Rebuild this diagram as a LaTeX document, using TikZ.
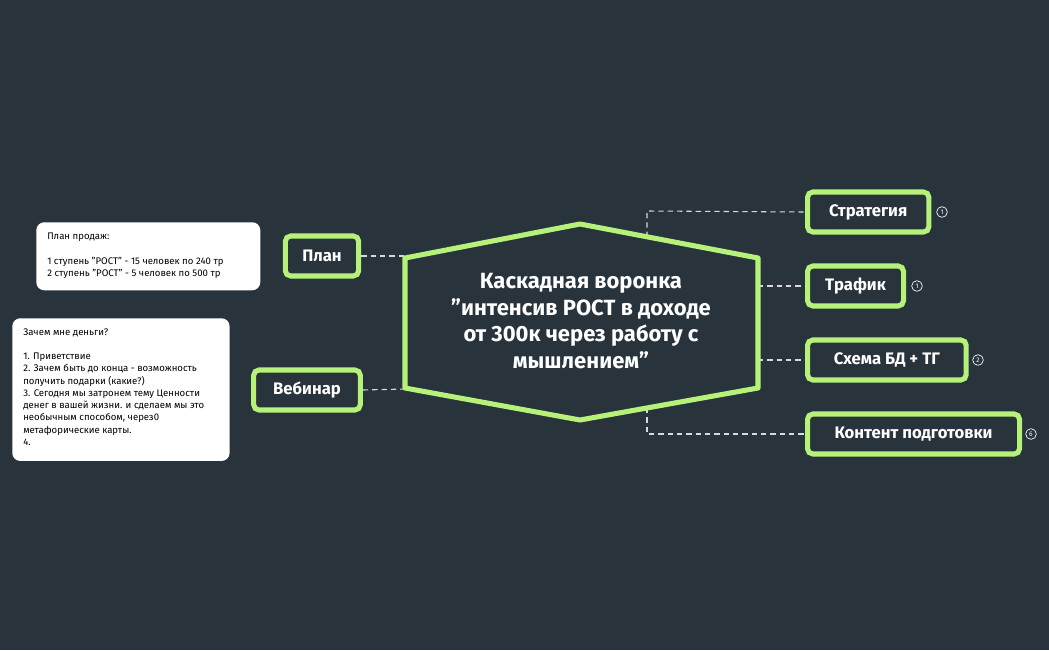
\documentclass[tikz,border=0pt]{standalone}
\usepackage{fontspec}
\setmainfont{Fira Sans}
\begin{document}
\begin{tikzpicture}[x=0.75pt,y=-0.75pt,
  topic/.style={draw=lime, line width=3.8pt, rounded corners=4pt, fill=bgc, text=white, font=\bfseries\fontsize{12.5}{15}\selectfont, inner sep=0pt, anchor=west, minimum height=30pt},
  notebox/.style={fill=white, rounded corners=6pt, anchor=north west, inner sep=0pt},
  notetext/.style={text=black, font=\fontsize{7.2}{9.2}\selectfont, align=left, anchor=north west, inner sep=0pt},
  conn/.style={draw=white!85!black, line width=0.8pt, dash pattern=on 4pt off 3pt},
  numbadge/.style={circle, draw=white, line width=0.5pt, text=white, font=\fontsize{5}{5}\selectfont, inner sep=0.6pt, minimum size=8pt}]
\definecolor{bgc}{HTML}{28333C}
\definecolor{lime}{HTML}{B6F27A}
\fill[bgc] (0,0) rectangle (1049,650);
\useasboundingbox (0,0) rectangle (1049,650);
% connectors
\coordinate (jt) at (647,211); \coordinate (jb) at (647,434);
\coordinate (ht) at (647,237); \coordinate (hb) at (647,408);
\coordinate (hr1) at (758,286); \coordinate (hr2) at (758,360);
\coordinate (hl1) at (405,256); \coordinate (hl2) at (405,389);
% hexagon
\coordinate (h1) at (405,258); \coordinate (h2) at (580,224); \coordinate (h3) at (758,258);
\coordinate (h4) at (758,388); \coordinate (h5) at (580,420); \coordinate (h6) at (405,388);
% topics
\node[topic, minimum width=91pt] (s) at (805,212) {Стратегия};
\node[topic, minimum width=72pt] (t) at (805,286) {Трафик};
\node[topic, minimum width=119pt] (sh) at (805,360) {Схема БД + ТГ};
\node[topic, minimum width=159pt] (k) at (805,434) {Контент подготовки};
\node[topic, minimum width=55pt, anchor=center] (p) at (322,256) {План};
\node[topic, minimum width=80pt, anchor=center] (v) at (307,390) {Вебинар};
\draw[conn] (ht) -- (jt) -- (s.west);
\draw[conn] (hr1) -- (t.west);
\draw[conn] (hr2) -- (sh.west);
\draw[conn] (hb) -- (jb) -- (k.west);
\draw[conn] (p.east) -- (hl1);
\draw[conn] (v.east) -- (hl2);
\draw[draw=lime, line width=3.8pt, line join=round, fill=bgc] (h1)--(h2)--(h3)--(h4)--(h5)--(h6)--cycle;
\node[text=white, font=\bfseries\fontsize{16.5}{20}\selectfont, align=center] (c) at (581,321)
 {Каскадная воронка\\"интенсив РОСТ в доходе\\от 300к через работу с\\мышлением"};
% badges
\node[numbadge] (m1) at (942,212) {1};
\node[numbadge] (m2) at (917,286) {1};
\node[numbadge] (m3) at (978,360) {2};
\node[numbadge] (m4) at (1031,434) {6};
% notes
\node[notebox, minimum width=168pt, minimum height=51pt] (n1) at (36,222) {};
\node[notetext] (n1t) at (47,233)
 {План продаж:\\[9.2pt]1 ступень "РОСТ" - 15 человек по 240 тр\\2 ступень "РОСТ" - 5 человек по 500 тр};
\node[notebox, minimum width=163pt, minimum height=107pt] (n2) at (12,318) {};
\node[notetext] (n2t) at (23,328)
 {Зачем мне деньги?\\[9.2pt]1. Приветствие\\2. Зачем быть до конца - возможность\\получить подарки (какие?)\\3. Сегодня мы затронем тему Ценности\\денег в вашей жизни. и сделаем мы это\\необычным способом, через0\\метафорические карты.\\4.};
\end{tikzpicture}
\end{document}
